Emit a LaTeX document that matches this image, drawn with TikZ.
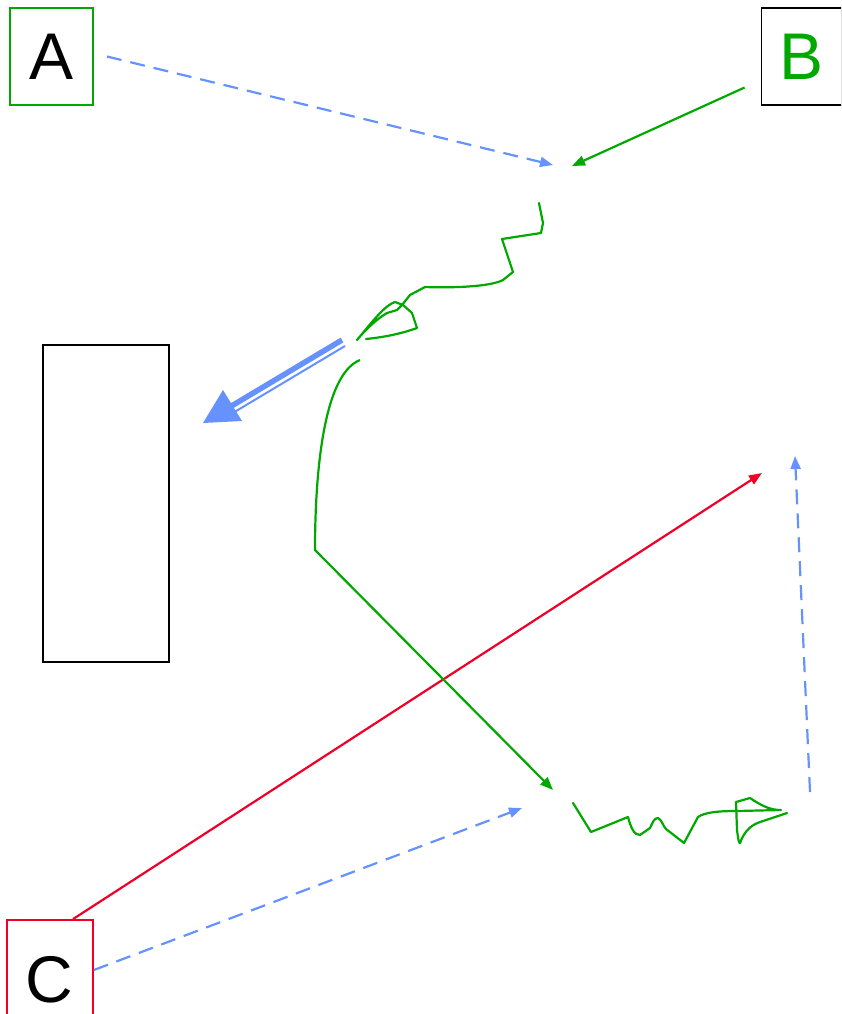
\documentclass[tikz,border=0pt]{standalone}
\usepackage{fontspec}
\setmainfont{Liberation Sans}
\usepackage{xcolor}
\definecolor{sketchblue}{RGB}{102, 146, 255}
\definecolor{sketchgreen}{RGB}{0, 168, 0}
\definecolor{sketchred}{RGB}{240, 0, 40}
\usetikzlibrary{arrows.meta, positioning, calc}

\begin{document}
\begin{tikzpicture}[x=1pt, y=-1pt, >={Triangle[length=13pt, width=10pt]},
    letterbox/.style={draw, line width=1.8pt, inner sep=0pt, font=\fontsize{66}{66}\selectfont},
    dashlink/.style={sketchblue, line width=2.2pt, dash pattern=on 15pt off 9pt},
    pen/.style={sketchgreen, line width=2.2pt, line join=round, line cap=round}]
    \useasboundingbox (0,0) rectangle (841,1014);
    \clip (0,0) rectangle (841,1014);
    % boxes
    \node[letterbox, sketchgreen, text=black, minimum width=83pt, minimum height=97pt] (A) at (51.5,56.5) {A};
    \node[letterbox, black, text=sketchgreen, minimum width=80pt, minimum height=97pt] (B) at (801.5,56.5) {B};
    \node[letterbox, sketchred, minimum width=86pt, minimum height=110pt] (C) at (50,975) {};
    \node[font=\fontsize{66}{66}\selectfont] (Clabel) at (49,980) {C};
    \node[draw, line width=1.8pt, minimum width=126pt, minimum height=317pt] (R) at (106,503.5) {};
    % free ends
    \coordinate (meetA) at (553,165);
    \coordinate (meetB) at (572,166);
    \coordinate (wiggleTop) at (539,203);
    \coordinate (bigTip) at (203,423);
    \coordinate (bigTail) at (342,340);
    \coordinate (curveTop) at (360,360);
    \coordinate (bend) at (315,550);
    \coordinate (lowTip) at (553,790);
    \coordinate (redTip) at (762,473);
    \coordinate (blueTip) at (522,808);
    \coordinate (upTip) at (795,456);
    \coordinate (upTail) at (810,792);
    % connectors
    \draw[dashlink, ->] ([xshift=13pt]A.east) -- (meetA);
    \draw[pen, ->, line cap=butt] ([shift={(-16,31)}]B.west) -- (meetB);
    \draw[sketchred, line width=2.2pt, ->] ([xshift=23pt]C.north) -- (redTip);
    \draw[dashlink, ->] ([yshift=5pt]C.east) -- (blueTip);
    \draw[dashlink, ->] (upTail) -- (upTip);
    \draw[pen, ->, line cap=butt] (curveTop) .. controls (322,375) and (315,480) .. (bend) -- (lowTip);
    % double arrow
    \draw[sketchblue, line width=5.5pt] (bigTail) -- ($(bigTail)!0.8!(bigTip)$);
    \draw[sketchblue, line width=2pt] ($(bigTail)+(3,6)$) -- ($($(bigTail)!0.8!(bigTip)$)+(3,6)$);
    \fill[sketchblue] (bigTip) -- (223,390) -- (242,421) -- cycle;
    % scribbles
    \draw[pen] (wiggleTop) -- (543,223) -- (541,233) -- (502,239) -- (513,272) -- (503,280)
        .. controls (490,287) and (450,288) .. (425,287) -- (410,295) -- (402,305) -- (397,310)
        -- (387,313) .. controls (378,318) and (365,330) .. (357,340)
        .. controls (372,322) and (385,305) .. (395,302) -- (403,305) -- (412,313) -- (417,328)
        .. controls (400,334) and (385,337) .. (366,339);
    \draw[pen] (573,803) -- (591,832) -- (628,817) .. controls (631,828) and (634,835) .. (640,835)
        -- (650,828) .. controls (653,822) and (654,818) .. (658,818) .. controls (662,820) and (663,826) .. (666,829)
        -- (684,843) -- (698,817) .. controls (705,812) and (720,811) .. (737,811) -- (781,810)
        .. controls (770,810) and (762,806) .. (750,798) -- (736,802) -- (737,830)
        .. controls (738,838) and (739,844) .. (740,843) .. controls (743,835) and (748,826) .. (760,822)
        -- (787,813);
\end{tikzpicture}
\end{document}
